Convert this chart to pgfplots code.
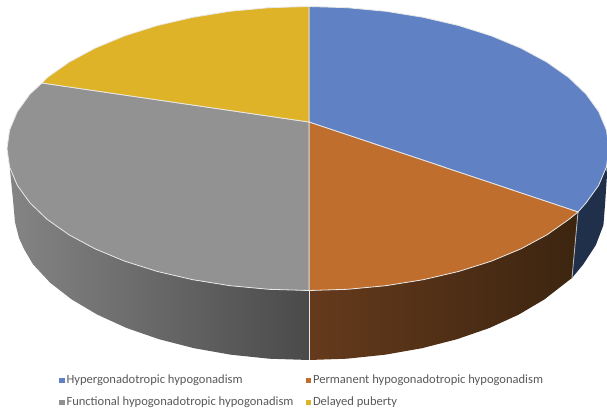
\documentclass[border=0pt]{standalone}
\usepackage{fontspec}
\setmainfont{Carlito}
\usepackage{pgfplots}
\pgfplotsset{compat=1.18}
\definecolor{cblue}{HTML}{6082C4}
\definecolor{corange}{HTML}{C06E2E}
\definecolor{cgrey}{HTML}{929292}
\definecolor{cyellow}{HTML}{DFB327}
\definecolor{cedge}{HTML}{E8E8E8}
\definecolor{ctext}{HTML}{595959}
\begin{document}
\begin{tikzpicture}
\useasboundingbox (0pt,0pt) rectangle (607pt,410pt);
\begin{axis}[
  at={(0pt,0pt)}, anchor=south west,
  scale only axis, width=607pt, height=410pt,
  xmin=0, xmax=607, ymin=0, ymax=410, y dir=reverse,
  axis lines=none, ticks=none, clip=true,
  legend columns=2,
  legend cell align=left,
  legend style={at={(axis cs:59,373)}, anchor=north west, draw=none, fill=none,
    font=\fontsize{12.55}{14}\selectfont, text=ctext, inner sep=0pt, outer sep=0pt,
    column sep=0pt, row sep=8pt,
    nodes={inner sep=2pt},
    /tikz/every even column/.append style={column sep=10pt}},
  legend image code/.code={\fill[#1, draw=none] (0pt,-2.5pt) rectangle (5.5pt,2.5pt);},
]
% side of the grey slice
\addplot[forget plot, draw=none, left color=black!48, right color=black!71, shading=axis] coordinates {
 (309,290.5)(268.7,289.3)(230.1,285.7)(192.8,279.7)(157.5,271.5)(124.8,261.2)(95.2,248.9)(69.2,234.9)(47.3,219.5)(29.9,202.8)(17.3,185.3)(9.6,167)(8.5,155)
 (13,200)(15,222)(19,238)(24,249)(33,264.3)(49.9,282.5)(71.6,299.4)(97.3,314.6)(126.6,328)(159,339.2)(194,348.2)(230.9,354.7)(269.1,358.7)(309,360)
} -- cycle;
% side of the orange slice
\addplot[forget plot, draw=none, shading=axis, left color={rgb,255:red,101;green,58;blue,28}, right color={rgb,255:red,60;green,37;blue,16}] coordinates {
 (309,290.5)(347.3,289.3)(385.9,285.7)(423.2,279.7)(458.5,271.5)(491.2,261.2)(520.8,248.9)(546.8,234.9)(568.7,219.5)(578,212)
 (572,278)(566.1,282.5)(544.4,299.4)(518.7,314.6)(489.4,328)(457,339.2)(422,348.2)(385.1,354.7)(346.9,358.7)(309,360)
} -- cycle;
% side of the blue slice
\addplot[forget plot, draw=none, fill={rgb,255:red,32;green,48;blue,74}] coordinates {
 (578,212)(586.1,202.8)(598.7,185.3)(606.4,167)(607,175)(605,205)(603.4,225.2)(595.8,245.1)(583.3,264.3)(572,278)
} -- cycle;
% dividers of the side wall
\addplot[forget plot, cedge, line width=0.9pt] coordinates {(309,290.5)(309,360)};
\addplot[forget plot, cedge!80!black, line width=0.8pt] coordinates {(578,212)(572,278)};
% top: blue
\addplot[forget plot, fill=cblue, draw=cedge, line width=0.8pt] coordinates {
 (309,122)(309,6.5)(347.3,7.7)(385.9,11.3)(423.2,17.3)(458.5,25.5)(491.2,35.8)(520.8,48.1)(546.8,62.1)(568.7,77.5)(586.1,94.2)(598.7,111.7)(606.4,130)(609,148.5)(606.4,167)(598.7,185.3)(586.1,202.8)(578,212)
} -- cycle;
% top: orange
\addplot[forget plot, fill=corange, draw=cedge, line width=0.8pt] coordinates {
 (309,122)(578,212)(568.7,219.5)(546.8,234.9)(520.8,248.9)(491.2,261.2)(458.5,271.5)(423.2,279.7)(385.9,285.7)(347.3,289.3)(309,290.5)
} -- cycle;
% top: grey
\addplot[forget plot, fill=cgrey, draw=cedge, line width=0.8pt] coordinates {
 (309,122)(309,290.5)(268.7,289.3)(230.1,285.7)(192.8,279.7)(157.5,271.5)(124.8,261.2)(95.2,248.9)(69.2,234.9)(47.3,219.5)(29.9,202.8)(17.3,185.3)(9.6,167)(7,148.5)(9.6,130)(17.3,111.7)(29.9,94.2)(42,83)
} -- cycle;
% top: yellow
\addplot[forget plot, fill=cyellow, draw=cedge, line width=0.8pt] coordinates {
 (309,122)(42,83)(47.3,77.5)(69.2,62.1)(95.2,48.1)(124.8,35.8)(157.5,25.5)(192.8,17.3)(230.1,11.3)(268.7,7.7)(309,6.5)
} -- cycle;
\addlegendimage{fill=cblue}
\addlegendentry{Hypergonadotropic hypogonadism}
\addlegendimage{fill=corange}
\addlegendentry{Permanent hypogonadotropic hypogonadism}
\addlegendimage{fill=cgrey}
\addlegendentry{Functional hypogonadotropic hypogonadism}
\addlegendimage{fill=cyellow}
\addlegendentry{Delayed puberty}
\end{axis}
\end{tikzpicture}
\end{document}
